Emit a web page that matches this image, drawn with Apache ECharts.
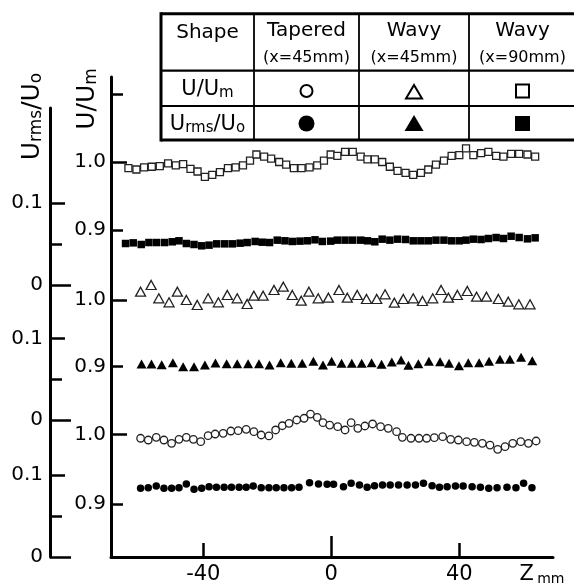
<!DOCTYPE html>
<html>
<head>
<meta charset="utf-8">
<script src="https://cdn.jsdelivr.net/npm/echarts@6/dist/echarts.min.js"></script>
<style>
  html, body { margin: 0; padding: 0; background: #fff; }
  #chart { width: 574px; height: 587px; }
</style>
</head>
<body>
<div id="chart"></div>
<script>
// ---------------- data ----------------
// Wavy (x=90mm): U/Um (open squares) and Urms/Uo (filled squares)
const zWavy90U = [-63.4,-60.9,-58.5,-56.1,-53.6,-51.0,-48.6,-46.3,-44.0,-41.8,-39.5,-37.2,-34.8,-32.3,-29.9,-27.6,-25.4,-23.4,-21.0,-18.8,-16.3,-14.1,-11.7,-9.3,-6.8,-4.4,-2.3,-0.2,1.9,4.3,6.7,9.2,11.3,13.6,15.9,18.3,20.7,23.2,25.6,28.0,30.3,32.7,35.2,37.6,40.0,42.1,44.4,46.8,49.1,51.5,53.8,56.2,58.7,61.3,63.7];
const uWavy90 = [0.991,0.989,0.992,0.993,0.994,0.998,0.995,0.997,0.990,0.986,0.978,0.981,0.985,0.991,0.992,0.995,1.002,1.011,1.008,1.005,1.000,0.996,0.991,0.991,0.992,0.995,1.002,1.011,1.009,1.015,1.015,1.008,1.004,1.004,1.000,0.993,0.987,0.984,0.981,0.984,0.989,0.996,1.002,1.009,1.010,1.020,1.010,1.013,1.015,1.009,1.008,1.012,1.012,1.011,1.008];
const zWavy90Rms = [-64.3,-61.9,-59.4,-57.0,-54.6,-52.1,-49.7,-47.6,-45.3,-42.9,-40.5,-38.2,-35.8,-33.3,-30.9,-28.5,-26.3,-23.8,-21.6,-19.3,-16.9,-14.5,-12.2,-9.8,-7.5,-5.1,-2.8,-0.2,1.9,4.3,6.7,9.2,11.3,13.6,15.9,18.3,20.7,23.2,25.6,28.0,30.3,32.7,35.2,37.6,40.0,42.1,44.4,46.8,49.1,51.5,53.8,56.2,58.7,61.3,63.7];
const rmsWavy90 = [0.0506,0.0514,0.0494,0.0518,0.0518,0.0518,0.0527,0.0539,0.0506,0.0494,0.0478,0.0486,0.0502,0.0502,0.0502,0.0510,0.0518,0.0531,0.0522,0.0518,0.0547,0.0539,0.0531,0.0535,0.0539,0.0551,0.0531,0.0535,0.0547,0.0547,0.0547,0.0547,0.0539,0.0527,0.0559,0.0547,0.0559,0.0555,0.0539,0.0539,0.0539,0.0547,0.0547,0.0539,0.0539,0.0547,0.0559,0.0555,0.0567,0.0579,0.0567,0.0595,0.0579,0.0563,0.0575];

// Wavy (x=45mm): U/Um (open triangles) and Urms/Uo (filled triangles)
const zWavy45U = [-59.6,-56.3,-53.9,-50.7,-48.1,-45.3,-41.9,-38.5,-35.3,-32.5,-29.4,-26.3,-24.2,-21.3,-17.9,-15.0,-12.2,-9.4,-7.0,-4.1,-0.9,2.4,5.0,8.1,11.0,14.2,16.8,19.7,22.5,25.6,28.5,31.7,34.3,36.6,39.4,42.5,45.4,48.5,52.2,55.3,58.6,62.1];
const uWavy45 = [1.0125,1.0225,1.0025,0.9965,1.0125,1.0000,0.9925,1.0025,0.9965,1.0075,1.0025,0.9940,1.0065,1.0065,1.0150,1.0200,1.0075,0.9990,1.0125,1.0025,1.0035,1.0150,1.0035,1.0075,1.0015,1.0015,1.0085,0.9960,1.0015,1.0025,0.9985,1.0025,1.0150,1.0035,1.0075,1.0135,1.0050,1.0050,1.0015,0.9975,0.9935,0.9935];
const zWavy45Rms = [-59.3,-56.2,-53.0,-49.5,-46.3,-42.9,-39.5,-36.2,-32.7,-29.4,-26.0,-22.6,-19.3,-15.8,-12.5,-9.1,-5.6,-2.6,0.1,3.2,6.4,9.5,12.6,15.7,18.9,21.8,24.1,27.2,30.5,34.0,36.8,39.9,42.8,46.2,49.3,52.7,55.8,59.3,62.8];
const rmsWavy45 = [0.0685,0.0685,0.0677,0.0702,0.0653,0.0653,0.0673,0.0698,0.0690,0.0690,0.0690,0.0690,0.0673,0.0702,0.0694,0.0694,0.0718,0.0673,0.0718,0.0694,0.0694,0.0694,0.0702,0.0682,0.0710,0.0734,0.0669,0.0690,0.0718,0.0714,0.0694,0.0665,0.0702,0.0702,0.0718,0.0743,0.0743,0.0767,0.0726];

// Tapered (x=45mm): U/Um (open circles) and Urms/Uo (filled circles)
const zTaperU = [-59.6,-57.2,-54.7,-52.3,-49.9,-47.6,-45.3,-43.1,-40.8,-38.5,-36.3,-33.8,-31.4,-29.1,-26.6,-24.2,-21.9,-19.5,-17.4,-15.3,-13.2,-10.8,-8.5,-6.5,-4.4,-2.6,-0.5,2.0,4.3,6.2,8.3,10.5,12.9,15.4,17.8,20.4,22.2,24.9,27.4,29.8,32.2,34.8,37.3,39.7,42.3,44.7,47.2,49.6,52.0,54.3,56.7,59.2,61.6,64.0];
const uTaper = [0.9943,0.9918,0.9957,0.9918,0.9871,0.9928,0.9957,0.9928,0.9894,0.9980,1.0004,1.0014,1.0047,1.0052,1.0072,1.0037,0.9990,0.9976,1.0062,1.0123,1.0158,1.0205,1.0230,1.0290,1.0244,1.0167,1.0133,1.0109,1.0062,1.0167,1.0086,1.0119,1.0148,1.0109,1.0086,1.0037,0.9957,0.9943,0.9943,0.9943,0.9951,0.9966,0.9928,0.9918,0.9894,0.9885,0.9871,0.9846,0.9785,0.9822,0.9871,0.9894,0.9871,0.9904];
const zTaperRms = [-59.6,-57.2,-54.7,-52.3,-49.9,-47.6,-45.3,-42.9,-40.5,-38.2,-35.9,-33.5,-31.2,-28.8,-26.6,-24.4,-21.9,-19.5,-17.2,-14.8,-12.4,-10.1,-6.8,-4.0,-1.3,0.7,3.8,6.2,8.8,11.2,13.5,16.0,18.4,21.0,23.7,26.3,28.8,31.5,33.8,36.2,38.8,41.2,44.0,46.6,49.2,51.8,54.9,57.7,60.1,62.7];
const rmsTaper = [0.0838,0.0846,0.0866,0.0838,0.0838,0.0846,0.0890,0.0825,0.0838,0.0858,0.0850,0.0850,0.0850,0.0850,0.0850,0.0866,0.0846,0.0846,0.0846,0.0846,0.0846,0.0850,0.0906,0.0890,0.0886,0.0886,0.0858,0.0898,0.0878,0.0850,0.0870,0.0878,0.0878,0.0878,0.0878,0.0878,0.0898,0.0870,0.0850,0.0858,0.0866,0.0866,0.0858,0.0850,0.0838,0.0846,0.0850,0.0846,0.0898,0.0846];

// tick values and labels
const zTicks = [-40, 40];
const zZeroTick = [0];
const zLabels = [-40, 0, 40];
const uLabels = [1.0, 0.9];
const uShortTicksTop = [1.1, 0.9];
const uShortTicks = [0.9];
const uLongTicks = [1.0];
const rmsLabels = [0, 0.1];
const rmsHalfTick = [0.05];
const rmsTenthTick = [0.1];
const rmsZeroTick = [0];

// table text
const shapeHeader = 'Shape';
const shapeNames = ['Tapered', 'Wavy', 'Wavy'];
const shapeStations = ['(x=45mm)', '(x=45mm)', '(x=90mm)'];

// ---------------- layout ----------------
const FONT = '"DejaVu Sans", "Liberation Sans", sans-serif';
const W = 574, H = 587;
const frame = { left: 111, right: 553, innerTop: 77, outerTop: 108, base: 557, outerX: 50 };
// pixel anchors of the stacked scales (value, pixel)
const xAnchors = [[-40, 203.3], [40, 459.3]];
const uAnchors = {
  top: [[1.0, 162], [0.9, 230]],
  mid: [[1.0, 300], [0.9, 366.7]],
  bot: [[1.0, 434.3], [0.9, 504]]
};
const rmsAnchors = {
  top: [[0, 285], [0.1, 203]],
  mid: [[0, 420], [0.1, 338.3]],
  bot: [[0, 557], [0.1, 475]]
};

// axis extent so that two given values fall on two given pixels
function extentFor(anchors, p0, p1) {
  const [[v1, q1], [v2, q2]] = anchors;
  const k = (v2 - v1) / (q2 - q1);
  const a = v1 + (p0 - q1) * k, b = v1 + (p1 - q1) * k;
  return { min: Math.min(a, b), max: Math.max(a, b) };
}

const xExt = extentFor(xAnchors, frame.left, frame.right);

const labelStyle = { fontFamily: FONT, fontSize: 20, color: '#000' };

function yAx(grid, ext, o) {
  return {
    type: 'value', gridIndex: grid, position: 'left', offset: o.offset || 0,
    min: ext.min, max: ext.max,
    axisLine: { show: !!o.line, onZero: false, lineStyle: { color: '#000', width: 3 } },
    axisTick: o.ticks ? { show: true, inside: true, length: o.len, customValues: o.ticks,
      lineStyle: { color: '#000', width: 2.5 } } : { show: false },
    axisLabel: o.labels ? Object.assign({ show: true, customValues: o.labels, margin: o.margin,
      formatter: o.fmt }, labelStyle) : { show: false },
    splitLine: { show: false }
  };
}

const fmtU = v => v.toFixed(1);
const fmtRms = v => (v === 0 ? '0' : v.toFixed(1));

const uTop = extentFor(uAnchors.top, frame.base, frame.innerTop);
const uMid = extentFor(uAnchors.mid, frame.base, frame.innerTop);
const uBot = extentFor(uAnchors.bot, frame.base, frame.innerTop);
const rTop = extentFor(rmsAnchors.top, frame.base, frame.outerTop);
const rMid = extentFor(rmsAnchors.mid, frame.base, frame.outerTop);
const rBot = extentFor(rmsAnchors.bot, frame.base, frame.outerTop);
const outerOffset = frame.left - frame.outerX;

const yAxes = [
  // inner scale U/Um (grid 0)
  yAx(0, uTop, { line: true, ticks: uShortTicksTop, len: 12, labels: uLabels, fmt: fmtU, margin: 5 }), // 0
  yAx(0, uTop, { ticks: uLongTicks, len: 16 }),                                                        // 1
  yAx(0, uMid, { ticks: uShortTicks, len: 12, labels: uLabels, fmt: fmtU, margin: 5 }),               // 2
  yAx(0, uMid, { ticks: uLongTicks, len: 16 }),                                                        // 3
  yAx(0, uBot, { ticks: uShortTicks, len: 12, labels: uLabels, fmt: fmtU, margin: 5 }),               // 4
  yAx(0, uBot, { ticks: uLongTicks, len: 16 }),                                                        // 5
  // outer scale Urms/Uo (grid 1)
  yAx(1, rTop, { line: true, offset: outerOffset, ticks: rmsHalfTick, len: 12, labels: rmsLabels, fmt: fmtRms, margin: 7 }), // 6
  yAx(1, rTop, { offset: outerOffset, ticks: rmsTenthTick, len: 15 }),                                 // 7
  yAx(1, rTop, { offset: outerOffset, ticks: rmsZeroTick, len: 21 }),                                  // 8
  yAx(1, rMid, { offset: outerOffset, ticks: rmsHalfTick, len: 12, labels: rmsLabels, fmt: fmtRms, margin: 7 }), // 9
  yAx(1, rMid, { offset: outerOffset, ticks: rmsTenthTick, len: 15 }),                                 // 10
  yAx(1, rMid, { offset: outerOffset, ticks: rmsZeroTick, len: 21 }),                                  // 11
  yAx(1, rBot, { offset: outerOffset, ticks: rmsHalfTick, len: 12, labels: rmsLabels, fmt: fmtRms, margin: 7 }), // 12
  yAx(1, rBot, { offset: outerOffset, ticks: rmsTenthTick, len: 15 }),                                 // 13
  yAx(1, rBot, { offset: outerOffset, ticks: rmsZeroTick, len: 21 })                                   // 14
];

const xAxes = [
  { type: 'value', gridIndex: 0, position: 'bottom', min: xExt.min, max: xExt.max,
    axisLine: { show: true, onZero: false, lineStyle: { color: '#000', width: 3 } },
    axisTick: { show: true, inside: true, length: 14, customValues: zTicks, lineStyle: { color: '#000', width: 2.5 } },
    axisLabel: Object.assign({ show: true, customValues: zLabels, margin: 7, formatter: v => String(v) }, labelStyle, { fontSize: 21 }),
    splitLine: { show: false } },
  { type: 'value', gridIndex: 0, position: 'bottom', min: xExt.min, max: xExt.max,
    axisLine: { show: false, onZero: false },
    axisTick: { show: true, inside: true, length: 21, customValues: zZeroTick, lineStyle: { color: '#000', width: 2.5 } },
    axisLabel: { show: false }, splitLine: { show: false } },
  { type: 'value', gridIndex: 1, position: 'bottom', min: xExt.min, max: xExt.max,
    axisLine: { show: false, onZero: false }, axisTick: { show: false }, axisLabel: { show: false }, splitLine: { show: false } }
];

const pts = (xs, ys) => xs.map((x, i) => [x, ys[i]]);
const openStyle = { color: '#fff', borderColor: '#222', borderWidth: 1.3, opacity: 1 };
const solidStyle = { color: '#000', opacity: 1 };
function scatter(name, data, xi, yi, symbol, size, style) {
  return { name, type: 'scatter', xAxisIndex: xi, yAxisIndex: yi, data, symbol, symbolSize: size,
    itemStyle: style, silent: true, animation: false };
}

const series = [
  scatter('U/Um Wavy x=90mm', pts(zWavy90U, uWavy90), 0, 0, 'rect', 7, openStyle),
  scatter('U/Um Wavy x=45mm', pts(zWavy45U, uWavy45), 0, 2, 'triangle', [10, 9], openStyle),
  scatter('U/Um Tapered x=45mm', pts(zTaperU, uTaper), 0, 4, 'circle', 7.5, openStyle),
  scatter('Urms/Uo Wavy x=90mm', pts(zWavy90Rms, rmsWavy90), 2, 6, 'rect', 7.5, solidStyle),
  scatter('Urms/Uo Wavy x=45mm', pts(zWavy45Rms, rmsWavy45), 2, 9, 'triangle', [10, 9], solidStyle),
  scatter('Urms/Uo Tapered x=45mm', pts(zTaperRms, rmsTaper), 2, 12, 'circle', 7.5, solidStyle)
];

// ---------------- text with subscripts ----------------
const measureCtx = document.createElement('canvas').getContext('2d');
function tw(t, size) { measureCtx.font = size + 'px ' + FONT; return measureCtx.measureText(t).width; }
// parts: [text, fontSize, downward shift]
function composed(parts, cx, cy, rotation) {
  const total = parts.reduce((s, p) => s + tw(p[0], p[1]), 0);
  let x = -total / 2;
  const children = parts.map(p => {
    const el = { type: 'text', x: x, y: p[2],
      style: { text: p[0], font: p[1] + 'px ' + FONT, fill: '#000',
               align: 'left', verticalAlign: 'middle', textAlign: 'left', textVerticalAlign: 'middle' } };
    x += tw(p[0], p[1]);
    return el;
  });
  return { type: 'group', x: cx, y: cy, rotation: rotation || 0, silent: true, children };
}
function plainText(t, size, cx, cy) {
  return { type: 'text', x: cx, y: cy, silent: true,
    style: { text: t, font: size + 'px ' + FONT, fill: '#000',
             align: 'center', verticalAlign: 'middle', textAlign: 'center', textVerticalAlign: 'middle' } };
}
function line(x1, y1, x2, y2, w) {
  return { type: 'line', silent: true, shape: { x1, y1, x2, y2 }, style: { stroke: '#000', lineWidth: w } };
}

// ---------------- key table ----------------
const tCols = [161, 254, 359, 469, 576];
const tRows = [13.7, 70.7, 106, 140];
const colMid = i => (tCols[i] + tCols[i + 1]) / 2;
const graphic = [
  line(tCols[0], tRows[0], tCols[4], tRows[0], 3),
  line(tCols[0], tRows[3], tCols[4], tRows[3], 3),
  line(tCols[0], tRows[0] - 1.5, tCols[0], tRows[3] + 1.5, 3),
  line(tCols[0], tRows[1], tCols[4], tRows[1], 2.2),
  line(tCols[0], tRows[2], tCols[4], tRows[2], 1.8),
  line(tCols[1], tRows[0], tCols[1], tRows[3], 1.8),
  line(tCols[2], tRows[0], tCols[2], tRows[3], 1.8),
  line(tCols[3], tRows[0], tCols[3], tRows[3], 1.8),
  plainText(shapeHeader, 20, colMid(0), 33),
  composed([['U', 21, 0], ['/', 21, 0], ['U', 21, 0], ['m', 15, 3.5]], colMid(0), 90),
  composed([['U', 21, 0], ['rms', 15, 3.5], ['/', 21, 0], ['U', 21, 0], ['o', 15, 3.5]], colMid(0), 124.5)
];
shapeNames.forEach((n, i) => {
  graphic.push(plainText(n, 20, colMid(i + 1), 31));
  graphic.push(plainText(shapeStations[i], 16, colMid(i + 1), 57.5));
});
// key symbols
const kOpen = { fill: '#fff', stroke: '#000', lineWidth: 2 };
const kSolid = { fill: '#000' };
graphic.push({ type: 'circle', silent: true, shape: { cx: colMid(1), cy: 91, r: 6 }, style: kOpen });
graphic.push({ type: 'polygon', silent: true, shape: { points: [[colMid(2), 85], [colMid(2) - 8, 98.5], [colMid(2) + 8, 98.5]] }, style: kOpen });
graphic.push({ type: 'rect', silent: true, shape: { x: colMid(3) - 6.5, y: 84.5, width: 13, height: 13 }, style: kOpen });
graphic.push({ type: 'circle', silent: true, shape: { cx: colMid(1), cy: 123.5, r: 8 }, style: kSolid });
graphic.push({ type: 'polygon', silent: true, shape: { points: [[colMid(2), 115], [colMid(2) - 9.5, 131], [colMid(2) + 9.5, 131]] }, style: kSolid });
graphic.push({ type: 'rect', silent: true, shape: { x: colMid(3) - 7.5, y: 116, width: 15, height: 15 }, style: kSolid });

// axis titles
graphic.push(composed([['U', 25, 0], ['/', 25, 0], ['U', 25, 0], ['m', 17, 4]], 87.5, 99, Math.PI / 2));
graphic.push(composed([['U', 25, 0], ['rms', 17, 4], ['/', 25, 0], ['U', 25, 0], ['o', 17, 4]], 32.5, 116.5, Math.PI / 2));
graphic.push(composed([['Z', 21, 0], [' ', 10, 0], ['mm', 14, 4]], 542, 575));

const chart = echarts.init(document.getElementById('chart'), null, { renderer: 'canvas', width: W, height: H });
chart.setOption({
  backgroundColor: '#fff',
  animation: false,
  grid: [
    { left: frame.left, right: W - frame.right, top: frame.innerTop, bottom: H - frame.base, containLabel: false },
    { left: frame.left, right: W - frame.right, top: frame.outerTop, bottom: H - frame.base, containLabel: false }
  ],
  xAxis: xAxes,
  yAxis: yAxes,
  series: series,
  graphic: graphic
});
</script>
</body>
</html>
